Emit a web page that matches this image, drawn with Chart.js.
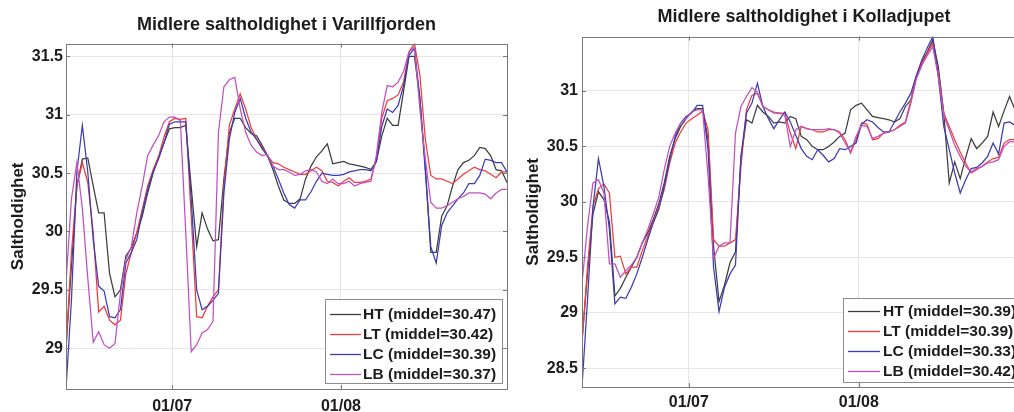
<!DOCTYPE html>
<html><head><meta charset="utf-8">
<script src="https://cdn.jsdelivr.net/npm/chart.js@4.4.1/dist/chart.umd.min.js"></script>
<style>
html,body{margin:0;padding:0;background:#fff;overflow:hidden;width:1014px;height:412px;}
#wrap{position:relative;width:1014px;height:412px;overflow:hidden;background:#fff;}
#c1{position:absolute;left:0;top:0;}
#c2{position:absolute;left:520px;top:0;}
</style></head><body>
<div id="wrap"><canvas id="c1" width="520" height="412"></canvas><canvas id="c2" width="519" height="412"></canvas></div>
<script>
// x: days since 01/07 (daily means)
const DAYS = [
 -19.5,-18.5,-17.5,-16.5,-15.5,-14.5,-13.5,-12.5,-11.5,-10.5,
 -9.5,-8.5,-7.5,-6.5,-5.5,-4.5,-3.5,-2.5,-1.5,-0.5,
 0.5,1.5,2.5,3.5,4.5,5.5,6.5,7.5,8.5,9.5,
 10.5,11.5,12.5,13.5,14.5,15.5,16.5,17.5,18.5,19.5,
 20.5,21.5,22.5,23.5,24.5,25.5,26.5,27.5,28.5,29.5,
 30.5,31.5,32.5,33.5,34.5,35.5,36.5,37.5,38.5,39.5,
 40.5,41.5,42.5,43.5,44.5,45.5,46.5,47.5,48.5,49.5,
 50.5,51.5,52.5,53.5,54.5,55.5,56.5,57.5,58.5,59.5,
 60.5,61.5];
const X_TICK_DAYS = [0, 31];
const X_TICK_LABELS = ['01/07', '01/08'];
const SERIES = ['HT', 'LT', 'LC', 'LB'];

// Varillfjorden
const TITLE_LEFT = 'Midlere saltholdighet i Varillfjorden';
const MEANS_LEFT = [30.47, 30.42, 30.39, 30.37];
const Y_TICKS_LEFT = [29, 29.5, 30, 30.5, 31, 31.5];
const HT_LEFT = [
 29.0,29.7,30.39,30.62,30.63,30.39,30.16,30.16,29.64,29.44,
 29.5,29.79,29.86,29.99,30.13,30.33,30.5,30.64,30.76,30.88,
 30.89,30.89,30.91,30.38,29.87,30.16,30.02,29.92,29.93,30.45,
 30.85,30.97,30.97,30.89,30.84,30.82,30.74,30.65,30.53,30.39,
 30.27,30.24,30.24,30.28,30.45,30.56,30.64,30.69,30.75,30.58,
 30.59,30.6,30.58,30.57,30.56,30.55,30.53,30.6,30.82,30.97,
 30.91,30.91,31.2,31.5,31.5,31.14,30.56,29.82,29.82,30.13,
 30.22,30.39,30.53,30.59,30.61,30.65,30.72,30.71,30.65,30.53,
 30.52,30.42];
const LT_LEFT = [
 29.0,29.82,30.39,30.59,30.42,29.99,29.31,29.36,29.24,29.2,
 29.24,29.64,29.82,29.99,30.19,30.39,30.53,30.64,30.81,30.94,
 30.97,30.96,30.97,30.13,29.27,29.26,29.36,29.44,29.5,30.39,
 30.91,31.05,31.18,31.05,30.89,30.79,30.72,30.65,30.59,30.58,
 30.55,30.53,30.51,30.49,30.49,30.52,30.55,30.52,30.43,30.42,
 30.39,30.43,30.46,30.42,30.42,30.43,30.45,30.62,30.97,31.12,
 31.14,31.17,31.28,31.54,31.61,31.34,30.79,30.48,30.45,30.45,
 30.43,30.41,30.45,30.49,30.52,30.55,30.53,30.52,30.49,30.46,
 30.51,30.51];
const LC_LEFT = [
 28.65,29.41,30.51,30.91,30.51,29.93,29.53,29.49,29.27,29.26,
 29.33,29.73,29.82,29.93,30.16,30.36,30.51,30.62,30.76,30.92,
 30.94,30.94,30.94,30.28,29.5,29.33,29.36,29.41,29.47,30.33,
 30.79,31.02,31.14,30.97,30.85,30.79,30.71,30.65,30.56,30.45,
 30.33,30.23,30.2,30.27,30.27,30.34,30.43,30.5,30.49,30.48,
 30.48,30.49,30.51,30.52,30.53,30.53,30.52,30.6,30.9,31.05,
 31.02,31.08,31.25,31.51,31.57,31.14,30.51,29.87,29.73,30.05,
 30.16,30.22,30.28,30.33,30.41,30.41,30.48,30.62,30.61,30.59,
 30.59,30.51];
const LB_LEFT = [
 29.56,30.28,30.59,30.2,29.6,29.05,29.14,29.03,29.0,29.04,
 29.47,29.76,29.87,30.16,30.39,30.65,30.74,30.82,30.94,30.98,
 30.98,30.95,29.99,28.97,29.03,29.13,29.16,29.23,30.85,31.24,
 31.3,31.32,31.05,30.85,30.74,30.68,30.65,30.66,30.56,30.53,
 30.53,30.51,30.48,30.49,30.52,30.53,30.51,30.43,30.41,30.45,
 30.41,30.41,30.43,30.39,30.41,30.42,30.43,30.65,31.02,31.25,
 31.24,31.28,31.37,31.54,31.58,31.05,30.62,30.25,30.2,30.2,
 30.22,30.25,30.28,30.3,30.33,30.33,30.33,30.32,30.28,30.33,
 30.36,30.36];

// Kolladjupet
const TITLE_RIGHT = 'Midlere saltholdighet i Kolladjupet';
const MEANS_RIGHT = [30.39, 30.39, 30.33, 30.42];
const Y_TICKS_RIGHT = [28.5, 29, 29.5, 30, 30.5, 31];
const HT_RIGHT = [
 28.75,29.35,29.89,30.09,30.02,29.82,29.15,29.22,29.32,29.41,
 29.5,29.63,29.72,29.84,29.98,30.17,30.41,30.57,30.68,30.75,
 30.81,30.84,30.84,30.56,29.6,29.1,29.25,29.45,29.55,30.4,
 30.74,30.71,30.87,30.81,30.77,30.71,30.72,30.71,30.77,30.75,
 30.59,30.56,30.5,30.47,30.47,30.5,30.54,30.59,30.62,30.83,
 30.87,30.89,30.83,30.77,30.76,30.75,30.74,30.72,30.75,30.86,
 30.92,31.13,31.26,31.35,31.46,31.22,30.8,30.17,30.36,30.21,
 30.4,30.57,30.48,30.53,30.59,30.81,30.68,30.82,30.95,30.83,
 30.88,30.8];
const LT_RIGHT = [
 28.72,29.41,29.96,30.12,30.16,30.08,29.5,29.51,29.35,29.41,
 29.41,29.56,29.69,29.82,29.95,30.11,30.35,30.53,30.63,30.71,
 30.75,30.78,30.82,30.65,29.66,29.6,29.6,29.63,29.66,30.32,
 30.83,30.96,30.98,30.86,30.83,30.81,30.8,30.8,30.62,30.48,
 30.68,30.66,30.65,30.63,30.63,30.65,30.65,30.63,30.56,30.44,
 30.56,30.71,30.7,30.56,30.57,30.62,30.63,30.65,30.69,30.72,
 30.92,31.13,31.25,31.34,31.43,31.16,30.8,30.68,30.56,30.45,
 30.35,30.26,30.29,30.32,30.36,30.39,30.4,30.53,30.56,30.56,
 30.53,30.54];
const LC_RIGHT = [
 28.33,29.11,29.95,30.39,30.14,29.75,29.08,29.14,29.13,29.23,
 29.35,29.5,29.66,29.81,29.93,30.14,30.38,30.59,30.71,30.77,
 30.8,30.87,30.87,30.47,29.41,29.01,29.23,29.35,29.43,30.41,
 30.8,30.89,31.07,30.86,30.75,30.66,30.74,30.81,30.72,30.6,
 30.48,30.41,30.38,30.47,30.42,30.36,30.39,30.48,30.47,30.5,
 30.53,30.7,30.74,30.72,30.67,30.63,30.63,30.72,30.81,30.89,
 30.98,31.14,31.28,31.39,31.49,31.13,30.68,30.47,30.26,30.08,
 30.2,30.3,30.31,30.35,30.41,30.53,30.43,30.71,30.72,30.69,
 30.69,30.68];
const LB_RIGHT = [
 29.26,29.78,30.17,30.2,30.08,29.44,29.44,29.32,29.38,29.43,
 29.5,29.63,29.75,29.89,30.04,30.29,30.5,30.62,30.71,30.75,
 30.81,30.83,30.83,30.23,29.49,29.6,29.63,29.63,30.62,30.86,
 30.95,31.03,30.99,30.86,30.83,30.8,30.8,30.78,30.5,30.65,
 30.68,30.66,30.65,30.65,30.65,30.66,30.65,30.62,30.53,30.45,
 30.59,30.69,30.68,30.57,30.59,30.62,30.63,30.65,30.68,30.71,
 30.89,31.11,31.23,31.32,31.4,31.13,30.78,30.65,30.51,30.41,
 30.32,30.27,30.3,30.32,30.35,30.36,30.38,30.5,30.54,30.54,
 30.53,30.53];

const COLORS = ['#3d3d3d', '#f03c3c', '#3c3cb6', '#c050c0'];
const FONT = "'Liberation Sans', Arial, Helvetica, sans-serif";
const TEXT = '#1c1c1c';
const FRAME = '#7a7a7a';
const GRID = '#e6e6e6';

const framePlugin = {
  id: 'frameTicks',
  afterDatasetsDraw(chart) {
    const ctx = chart.ctx, a = chart.chartArea;
    const xs = chart.scales.x, ys = chart.scales.y;
    ctx.save();
    ctx.strokeStyle = FRAME; ctx.lineWidth = 1;
    ctx.strokeRect(Math.round(a.left) + 0.5, Math.round(a.top) + 0.5,
      Math.round(a.right - a.left), Math.round(a.bottom - a.top));
    ctx.beginPath();
    const L = 4;
    ys.ticks.forEach(t => {
      const y = Math.round(ys.getPixelForValue(t.value)) + 0.5;
      ctx.moveTo(a.left, y); ctx.lineTo(a.left + L, y);
      ctx.moveTo(a.right, y); ctx.lineTo(a.right - L, y);
    });
    xs.ticks.forEach(t => {
      const x = Math.round(xs.getPixelForValue(t.value)) + 0.5;
      ctx.moveTo(x, a.bottom); ctx.lineTo(x, a.bottom - L);
      ctx.moveTo(x, a.top); ctx.lineTo(x, a.top + L);
    });
    ctx.stroke();
    ctx.restore();
  }
};

const boxLegend = {
  id: 'boxLegend',
  afterDraw(chart, args, o) {
    const ctx = chart.ctx, a = chart.chartArea;
    const right = Math.round(a.right - o.rightGap), bottom = Math.round(a.bottom - o.bottomGap);
    const left = right - o.width, top = bottom - o.height;
    ctx.save();
    ctx.fillStyle = '#fff';
    ctx.fillRect(left, top, o.width, o.height);
    ctx.strokeStyle = '#8c8c8c'; ctx.lineWidth = 1;
    ctx.strokeRect(left + 0.5, top + 0.5, o.width, o.height);
    ctx.font = 'bold ' + o.fontSize + 'px ' + FONT;
    ctx.textBaseline = 'middle'; ctx.textAlign = 'left';
    chart.data.datasets.forEach((ds, i) => {
      const y = top + o.firstRow + i * o.rowGap;
      ctx.strokeStyle = ds.borderColor; ctx.lineWidth = 1.3;
      ctx.beginPath(); ctx.moveTo(left + o.lineStart, y + 0.5); ctx.lineTo(left + o.lineEnd, y + 0.5); ctx.stroke();
      ctx.fillStyle = TEXT;
      ctx.fillText(ds.label, left + o.textX, y + 1);
    });
    ctx.restore();
  }
};

function makeChart(id, cfg) {
  const series = [cfg.ht, cfg.lt, cfg.lc, cfg.lb];
  const datasets = series.map((vals, i) => ({
    label: SERIES[i] + ' (middel=' + cfg.means[i].toFixed(2) + ')',
    data: DAYS.map((d, k) => ({ x: d, y: vals[k] })),
    borderColor: COLORS[i],
    borderWidth: 1.25,
    pointRadius: 0,
    tension: 0,
    fill: false,
    order: 3 - i
  }));
  return new Chart(document.getElementById(id), {
    type: 'line',
    data: { datasets },
    plugins: [framePlugin, boxLegend],
    options: {
      responsive: false, animation: false, devicePixelRatio: 1,
      layout: { padding: { left: 0, right: cfg.padRight, top: 0, bottom: 0 } },
      plugins: {
        legend: { display: false },
        tooltip: { enabled: false },
        title: {
          display: true, text: cfg.title, fullSize: false, color: TEXT,
          font: { family: FONT, size: 18, weight: 'bold' },
          padding: { top: cfg.titleTop, bottom: cfg.titleBottom }
        },
        boxLegend: cfg.legend
      },
      scales: {
        x: {
          type: 'linear', min: DAYS[0], max: DAYS[DAYS.length - 1],
          afterBuildTicks: s => { s.ticks = X_TICK_DAYS.map(v => ({ value: v })); },
          afterFit: s => { s.height = cfg.xHeight; },
          grid: { color: GRID, drawTicks: false },
          border: { display: false },
          ticks: {
            color: TEXT, padding: cfg.xPad, maxRotation: 0, autoSkip: false,
            font: { family: FONT, size: 16, weight: 'bold' },
            callback: v => X_TICK_LABELS[X_TICK_DAYS.indexOf(v)]
          }
        },
        y: {
          type: 'linear', min: cfg.yMin, max: cfg.yMax,
          afterBuildTicks: s => { s.ticks = cfg.yTicks.map(v => ({ value: v })); },
          afterFit: s => { s.width = cfg.yWidth; },
          grid: { color: GRID, drawTicks: false },
          border: { display: false },
          ticks: {
            color: TEXT, padding: cfg.yPad, autoSkip: false,
            font: { family: FONT, size: 16, weight: 'bold' },
            callback: v => String(v)
          },
          title: {
            display: true, text: 'Saltholdighet', color: TEXT,
            font: { family: FONT, size: 17, weight: 'bold' },
            padding: { top: cfg.yTitleTop, bottom: 0 }
          }
        }
      }
    }
  });
}

makeChart('c1', {
  title: TITLE_LEFT, means: MEANS_LEFT,
  ht: HT_LEFT, lt: LT_LEFT, lc: LC_LEFT, lb: LB_LEFT,
  yMin: 28.65, yMax: 31.61, yTicks: Y_TICKS_LEFT,
  padRight: 13, titleTop: 14, titleBottom: 8, xHeight: 23, xPad: 8,
  yWidth: 66, yPad: 3, yTitleTop: 8,
  legend: { rightGap: 5, bottomGap: 6, width: 177, height: 84, firstRow: 15, rowGap: 20,
            lineStart: 5, lineEnd: 36, textX: 38, fontSize: 15.5 }
});
makeChart('c2', {
  title: TITLE_RIGHT, means: MEANS_RIGHT,
  ht: HT_RIGHT, lt: LT_RIGHT, lc: LC_RIGHT, lb: LB_RIGHT,
  yMin: 28.33, yMax: 31.49, yTicks: Y_TICKS_RIGHT,
  padRight: 13, titleTop: 6, titleBottom: 9, xHeight: 25, xPad: 6,
  yWidth: 62, yPad: 4, yTitleTop: 3,
  legend: { rightGap: 4, bottomGap: 5, width: 179, height: 84, firstRow: 13, rowGap: 20,
            lineStart: 5, lineEnd: 37, textX: 40, fontSize: 15.5 }
});
</script>
</body></html>
